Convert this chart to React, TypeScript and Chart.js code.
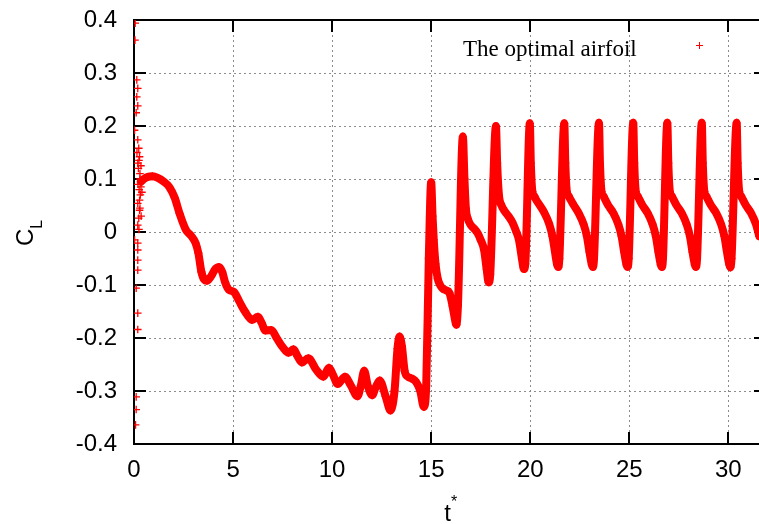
import React, { useEffect, useRef } from "react";
import { Chart, registerables } from "chart.js";

Chart.register(...registerables);

// ---- axes ----
const X_MIN = 0;
const X_MAX = 31.9;
const X_STEP = 5;
const Y_MIN = -0.4;
const Y_MAX = 0.4;
const Y_STEP = 0.1;

// ---- texts ----
const seriesLabel = "The optimal airfoil";
const xTitle = "t";
const xTitleSup = "*";
const yTitle = "C";
const yTitleSub = "L";

// ---- scattered start-up transient near t = 0 ----
const transientT = [
  0.06, 0.05, 0.14, 0.19, 0.14, 0.19, 0.11, 0.03, 0.19, 0.24, 0.28, 0.15, 0.25, 0.19, 0.35, 0.22,
  0.3, 0.3, 0.38, 0.2, 0.35, 0.26, 0.4, 0.32, 0.28, 0.19, 0.28, 0.3, 0.24, 0.36, 0.19, 0.25, 0.03,
  0.19, 0.19, 0.19, 0.19, 0.11, 0.19, 0.19, 0.11, 0.11, 0.08,
];
const transientCL = [
  0.394, 0.362, 0.287, 0.271, 0.255, 0.238, 0.225, 0.192, 0.174, 0.158, 0.142, 0.15, 0.135, 0.13,
  0.125, 0.12, 0.11, 0.1, 0.095, 0.09, 0.085, 0.08, 0.075, 0.07, 0.06, 0.054, 0.041, 0.045, 0.026,
  0.03, 0.013, 0.005, -0.015, -0.021, -0.034, -0.053, -0.072, -0.106, -0.153, -0.184, -0.311,
  -0.335, -0.364,
];

// ---- main curve, t < 15 (slow drift) ----
const descentT = [
  0.35, 0.5, 0.7, 0.93, 1.2, 1.5, 1.78, 2.05, 2.3, 2.62, 2.9, 3.1, 3.25, 3.4, 3.55, 3.68, 3.9, 4.1,
  4.29, 4.45, 4.6, 4.79, 5.04, 5.3, 5.6, 5.96, 6.26, 6.45, 6.63, 6.93, 7.2, 7.5, 7.8, 8.05, 8.25,
  8.47, 8.8, 9.2, 9.56, 9.84, 10.05, 10.28, 10.65, 10.95, 11.28, 11.45, 11.62, 11.8, 12.02, 12.2,
  12.4, 12.7, 12.95, 13.15, 13.3, 13.4, 13.52, 13.66, 13.82, 14.0, 14.24, 14.45, 14.63, 14.75,
  14.88,
];
const descentCL = [
  0.095, 0.1, 0.104, 0.105, 0.102, 0.095, 0.085, 0.065, 0.035, 0.004, -0.008, -0.02, -0.04,
  -0.075, -0.09, -0.092, -0.083, -0.07, -0.066, -0.075, -0.095, -0.109, -0.113, -0.13, -0.15,
  -0.166, -0.16, -0.172, -0.186, -0.185, -0.2, -0.217, -0.228, -0.221, -0.234, -0.246, -0.238,
  -0.26, -0.273, -0.256, -0.27, -0.287, -0.273, -0.29, -0.31, -0.29, -0.262, -0.29, -0.308,
  -0.293, -0.28, -0.31, -0.337, -0.3, -0.22, -0.197, -0.215, -0.262, -0.273, -0.276, -0.283,
  -0.3, -0.33, -0.29, -0.05,
];

// ---- main curve, t >= 15 (periodic shedding) ----
const periodicT = [
  15.0, 15.07, 15.13, 15.22, 15.33, 15.45, 15.58, 15.75, 15.92, 16.08, 16.2, 16.27, 16.35, 16.6,
  16.68, 16.75, 16.85, 17.0, 17.2, 17.34, 17.5, 17.67, 17.8, 17.9, 17.98, 18.27, 18.33, 18.42,
  18.55, 18.68, 18.9, 19.09, 19.3, 19.43, 19.58, 19.68, 19.75, 19.98,
  20.03, 20.11, 20.2, 20.28, 20.45, 20.7, 20.95, 21.12, 21.25, 21.36, 21.42, 21.47, 21.72,
  21.77, 21.85, 21.94, 22.02, 22.19, 22.44, 22.69, 22.86, 22.99, 23.11, 23.17, 23.22, 23.47,
  23.52, 23.6, 23.69, 23.77, 23.94, 24.19, 24.44, 24.61, 24.74, 24.86, 24.92, 24.97, 25.2,
  25.25, 25.33, 25.42, 25.5, 25.67, 25.92, 26.17, 26.34, 26.47, 26.59, 26.65, 26.7, 26.92,
  26.97, 27.05, 27.14, 27.22, 27.39, 27.64, 27.89, 28.06, 28.19, 28.31, 28.37, 28.42, 28.66,
  28.71, 28.79, 28.88, 28.96, 29.13, 29.38, 29.63, 29.8, 29.93, 30.05, 30.1, 30.16, 30.42,
  30.47, 30.55, 30.64, 30.72, 30.89, 31.14, 31.39, 31.56,
];
const periodicCL = [
  0.094, 0.03, -0.015, -0.06, -0.088, -0.1, -0.107, -0.11, -0.115, -0.14, -0.165, -0.175, -0.14,
  0.18, 0.1, 0.045, 0.025, 0.013, 0.005, -0.002, -0.015, -0.034, -0.07, -0.095, -0.08, 0.2, 0.13,
  0.07, 0.05, 0.041, 0.03, 0.019, 0.0, -0.015, -0.05, -0.07, -0.06, 0.205,
  0.13, 0.076, 0.068, 0.062, 0.052, 0.037, 0.016, -0.008, -0.038, -0.062, -0.066, -0.05, 0.205,
  0.13, 0.076, 0.068, 0.062, 0.051, 0.036, 0.015, -0.008, -0.038, -0.062, -0.066, -0.05, 0.206,
  0.13, 0.076, 0.068, 0.062, 0.05, 0.036, 0.015, -0.008, -0.038, -0.062, -0.066, -0.05, 0.206,
  0.13, 0.076, 0.068, 0.062, 0.05, 0.036, 0.015, -0.008, -0.038, -0.062, -0.066, -0.05, 0.206,
  0.13, 0.076, 0.068, 0.062, 0.05, 0.036, 0.015, -0.008, -0.038, -0.062, -0.066, -0.05, 0.206,
  0.13, 0.076, 0.068, 0.062, 0.05, 0.036, 0.015, -0.008, -0.038, -0.062, -0.067, -0.05, 0.206,
  0.13, 0.076, 0.068, 0.062, 0.05, 0.036, 0.015, -0.008,
];

const RED = "#ff0000";
const SANS = '"Liberation Sans", Arial, Helvetica, sans-serif';
const SERIF = '"Liberation Serif", "Times New Roman", serif';

const zip = (xs: number[], ys: number[]) => xs.map((x, i) => ({ x, y: ys[i] }));

const framePlugin = {
  id: "gnuplotFrame",
  beforeDatasetsDraw(chart: any) {
    const { ctx, chartArea, scales } = chart;
    const { left, right, top, bottom } = chartArea;
    const xs = scales.x;
    const ys = scales.y;
    ctx.save();
    // dotted grid
    ctx.strokeStyle = "#8c8c8c";
    ctx.lineWidth = 1;
    ctx.setLineDash([2, 3]);
    xs.ticks.forEach((t: any) => {
      const px = Math.round(xs.getPixelForValue(t.value)) + 0.5;
      ctx.beginPath();
      ctx.moveTo(px, top);
      ctx.lineTo(px, bottom);
      ctx.stroke();
    });
    ys.ticks.forEach((t: any) => {
      const py = Math.round(ys.getPixelForValue(t.value)) + 0.5;
      ctx.beginPath();
      ctx.moveTo(left, py);
      ctx.lineTo(right, py);
      ctx.stroke();
    });
    ctx.setLineDash([]);
    // inward tick marks
    ctx.strokeStyle = "#000";
    ctx.lineWidth = 2;
    const TL = 12;
    xs.ticks.forEach((t: any) => {
      const px = Math.round(xs.getPixelForValue(t.value));
      ctx.beginPath();
      ctx.moveTo(px, bottom);
      ctx.lineTo(px, bottom - TL);
      ctx.moveTo(px, top);
      ctx.lineTo(px, top + TL);
      ctx.stroke();
    });
    ys.ticks.forEach((t: any) => {
      const py = Math.round(ys.getPixelForValue(t.value));
      ctx.beginPath();
      ctx.moveTo(left, py);
      ctx.lineTo(left + TL, py);
      ctx.moveTo(right, py);
      ctx.lineTo(right - TL, py);
      ctx.stroke();
    });
    // border
    ctx.strokeRect(left, top, right - left, bottom - top);
    ctx.restore();
  },
  afterDraw(chart: any) {
    const { ctx } = chart;
    ctx.save();
    ctx.fillStyle = "#000";
    // y title  C_L (rotated)
    ctx.save();
    ctx.translate(33, 246);
    ctx.rotate(-Math.PI / 2);
    ctx.font = `24px ${SANS}`;
    ctx.textAlign = "left";
    ctx.textBaseline = "alphabetic";
    ctx.fillText(yTitle, 0, 0);
    const cw = ctx.measureText(yTitle).width;
    ctx.font = `16px ${SANS}`;
    ctx.fillText(yTitleSub, cw, 9);
    ctx.restore();
    // x title t*
    ctx.font = `24px ${SANS}`;
    ctx.textAlign = "center";
    ctx.textBaseline = "alphabetic";
    ctx.fillText(xTitle, 447.5, 521);
    ctx.font = `16px ${SANS}`;
    ctx.textAlign = "left";
    ctx.fillText(xTitleSup, 451, 507);
    // legend
    ctx.font = `23px ${SERIF}`;
    ctx.textAlign = "left";
    ctx.fillText(seriesLabel, 463, 56);
    ctx.strokeStyle = RED;
    ctx.lineWidth = 1;
    ctx.beginPath();
    ctx.moveTo(696, 45.5);
    ctx.lineTo(703, 45.5);
    ctx.moveTo(699.5, 42);
    ctx.lineTo(699.5, 49);
    ctx.stroke();
    ctx.restore();
  },
};

export default function App() {
  const ref = useRef<HTMLCanvasElement | null>(null);

  useEffect(() => {
    if (!ref.current) return;
    const chart = new Chart(ref.current, {
      type: "scatter",
      data: {
        datasets: [
          {
            label: seriesLabel,
            data: zip(descentT.concat(periodicT), descentCL.concat(periodicCL)),
            showLine: true,
            borderColor: RED,
            backgroundColor: RED,
            borderWidth: 8,
            borderJoinStyle: "round",
            borderCapStyle: "round",
            cubicInterpolationMode: "monotone",
            pointStyle: "cross",
            pointRadius: 4,
            pointBorderWidth: 1.3,
            pointBorderColor: RED,
          } as any,
          {
            label: seriesLabel + " (transient)",
            data: zip(transientT, transientCL),
            showLine: false,
            borderColor: RED,
            backgroundColor: RED,
            pointStyle: "cross",
            pointRadius: 3.8,
            pointBorderWidth: 1.3,
          } as any,
        ],
      },
      options: {
        responsive: false,
        maintainAspectRatio: false,
        animation: false,
        layout: { padding: { top: 20, right: 10, left: 0, bottom: 0 } },
        plugins: {
          legend: { display: false },
          tooltip: { enabled: false },
        },
        scales: {
          x: {
            type: "linear",
            min: X_MIN,
            max: X_MAX,
            afterFit: (s: any) => {
              s.height = 80;
              s.paddingLeft = 0;
              s.paddingRight = 0;
            },
            grid: { display: false, drawTicks: false, tickLength: 0 },
            border: { display: false },
            ticks: {
              stepSize: X_STEP,
              includeBounds: false,
              autoSkip: false,
              maxRotation: 0,
              padding: 12,
              color: "#000",
              font: { family: SANS, size: 24 },
            },
          },
          y: {
            type: "linear",
            min: Y_MIN,
            max: Y_MAX,
            afterFit: (s: any) => {
              s.width = 134;
              s.paddingTop = 0;
              s.paddingBottom = 0;
            },
            grid: { display: false, drawTicks: false, tickLength: 0 },
            border: { display: false },
            ticks: {
              stepSize: Y_STEP,
              autoSkip: false,
              padding: 17,
              color: "#000",
              font: { family: SANS, size: 24 },
              callback: (v: any) => String(Number(Number(v).toFixed(1))),
            },
          },
        },
      } as any,
      plugins: [framePlugin],
    });
    return () => chart.destroy();
  }, []);

  return (
    <div
      style={{
        position: "fixed",
        left: 0,
        top: 0,
        width: 759,
        height: 524,
        overflow: "hidden",
        background: "#fff",
      }}
    >
      <canvas ref={ref} width={776} height={524} style={{ display: "block" }} />
    </div>
  );
}
